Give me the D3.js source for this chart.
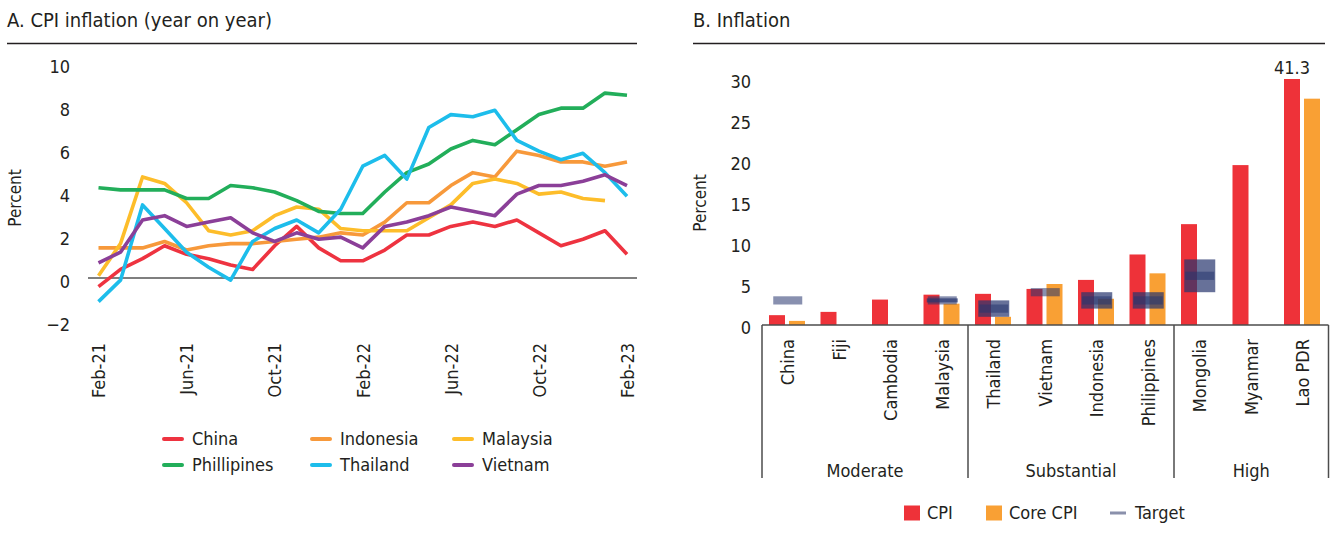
<!DOCTYPE html>
<html>
<head>
<meta charset="utf-8">
<script src="https://cdn.jsdelivr.net/npm/d3@7"></script>
<style>
	body { margin: 0; background: #fff; }
	svg { font-family: "DejaVu Sans Condensed", "DejaVu Sans", sans-serif; font-stretch: condensed; }
	text { fill: #231f20; }
</style>
</head>
<body>
<svg id="chart" width="1333" height="546"></svg>
<script>

// panel A: CPI inflation, year on year, percent
var months = ["Feb-21", "Mar-21", "Apr-21", "May-21", "Jun-21", "Jul-21", "Aug-21", "Sep-21", "Oct-21", "Nov-21", "Dec-21", "Jan-22",
	"Feb-22", "Mar-22", "Apr-22", "May-22", "Jun-22", "Jul-22", "Aug-22", "Sep-22", "Oct-22", "Nov-22", "Dec-22", "Jan-23", "Feb-23"];
var china       = [-0.4, 0.4, 0.9, 1.5, 1.1, 0.9, 0.6, 0.4, 1.5, 2.4, 1.4, 0.8, 0.8, 1.3, 2.0, 2.0, 2.4, 2.6, 2.4, 2.7, 2.1, 1.5, 1.8, 2.2, 1.1];
var indonesia   = [1.4, 1.4, 1.4, 1.7, 1.3, 1.5, 1.6, 1.6, 1.7, 1.8, 1.9, 2.1, 2.0, 2.6, 3.5, 3.5, 4.3, 4.9, 4.7, 5.9, 5.7, 5.4, 5.4, 5.2, 5.4];
var malaysia    = [0.1, 1.6, 4.7, 4.4, 3.5, 2.2, 2.0, 2.2, 2.9, 3.3, 3.2, 2.3, 2.2, 2.2, 2.2, 2.8, 3.4, 4.4, 4.6, 4.4, 3.9, 4.0, 3.7, 3.6, null];
var philippines = [4.2, 4.1, 4.1, 4.1, 3.7, 3.7, 4.3, 4.2, 4.0, 3.6, 3.1, 3.0, 3.0, 4.0, 4.9, 5.3, 6.0, 6.4, 6.2, 6.9, 7.6, 7.9, 7.9, 8.6, 8.5];
var thailand    = [-1.1, -0.1, 3.4, 2.3, 1.2, 0.5, -0.1, 1.7, 2.3, 2.7, 2.1, 3.2, 5.2, 5.7, 4.6, 7.0, 7.6, 7.5, 7.8, 6.4, 5.9, 5.5, 5.8, 4.9, 3.8];
var vietnam     = [0.7, 1.2, 2.7, 2.9, 2.4, 2.6, 2.8, 2.1, 1.7, 2.1, 1.8, 1.9, 1.4, 2.4, 2.6, 2.9, 3.3, 3.1, 2.9, 3.9, 4.3, 4.3, 4.5, 4.8, 4.3];
var seriesNames = ["China", "Indonesia", "Malaysia", "Phillipines", "Thailand", "Vietnam"];
var yTicksA = [-2, 0, 2, 4, 6, 8, 10];

// panel B: inflation by country, percent
var countries = ["China", "Fiji", "Cambodia", "Malaysia", "Thailand", "Vietnam", "Indonesia", "Philippines", "Mongolia", "Myanmar", "Lao PDR"];
var cpi     = [1.2, 1.6, 3.1, 3.7, 3.8, 4.4, 5.5, 8.6, 12.3, 19.5, 41.3];
var coreCpi = [0.5, null, null, 2.6, 1.0, 5.0, 3.2, 6.3, null, null, 27.6];
var target     = [3, null, null, 3, 2, 4, 3, 3, 6, null, null];
var targetLow  = [null, null, null, 2.75, 1, null, 2, 2, 4, null, null];
var targetHigh = [null, null, null, 3.25, 3, null, 4, 4, 8, null, null];
var groups = ["Moderate", "Substantial", "High"];
var groupSizes = [4, 4, 3];
var yTicksB = [0, 5, 10, 15, 20, 25, 30];

var lineColors = ["#ee3340", "#f7993b", "#fdbd2a", "#22ae5a", "#1dbdeb", "#8b3f98"];
var red = "#ee3239", orange = "#f9a034", navy = "#26346e";

var svg = d3.select("#chart");

var title = function (label, x0, x1) {
	svg.append("text")
	    .attr("x", x0)
	    .attr("y", 27)
	    .attr("font-size", 20)
	    .text(label);
	svg.append("line")
	    .attr("x1", x0).attr("x2", x1)
	    .attr("y1", 43.5).attr("y2", 43.5)
	    .style("stroke", "#231f20")
	    .style("stroke-width", 1.5);
};

var percentLabel = function (x, y) {
	svg.append("text")
	    .attr("transform", "translate(" + x + "," + y + ") rotate(-90)")
	    .attr("text-anchor", "middle")
	    .attr("dy", "0.35em")
	    .attr("font-size", 17)
	    .text("Percent");
};

var styleAxis = function (g) {
	g.attr("font-size", 18).attr("font-family", null);
	g.select(".domain").remove();
	g.selectAll("text").style("fill", "#231f20");
};

// ---- panel A ----
title("A. CPI inflation (year on year)", 7, 637);
percentLabel(15, 198);

var x = d3.scalePoint().domain(months).range([98.5, 627]);
var y = d3.scaleLinear().domain([-2, 10]).range([321, 63]);

svg.append("g")
    .attr("transform", "translate(70,0)")
    .call(d3.axisLeft(y).tickValues(yTicksA).tickSize(0).tickPadding(0))
    .call(styleAxis)
  .selectAll("text")
    .attr("y", 4);

svg.append("g")
    .attr("transform", "translate(0,343)")
    .call(d3.axisBottom(x).tickValues(months.filter(function (d, i) { return i % 4 === 0 })).tickSize(0))
    .call(styleAxis)
  .selectAll("text")
    .attr("transform", "rotate(-90)")
    .attr("text-anchor", "end")
    .attr("x", 0)
    .attr("y", 0)
    .attr("dy", "0.35em");

svg.append("line")
    .attr("x1", 88).attr("x2", 637)
    .attr("y1", y(0)).attr("y2", y(0))
    .style("stroke", "#000")
    .style("stroke-width", 1.2);

var series = [china, indonesia, malaysia, philippines, thailand, vietnam].map(function (values, i) {
	return { name: seriesNames[i], values: values, color: lineColors[i] };
});

var line = d3.line()
    .defined(function (d) { return d != null })
    .x(function (d, i) { return x(months[i]) })
    .y(function (d) { return y(d) });

svg.append("g").selectAll("path")
    .data(series)
  .enter().append("path")
    .attr("d", function (d) { return line(d.values) })
    .style("fill", "none")
    .style("stroke", function (d) { return d.color })
    .style("stroke-width", 3.6)
    .style("stroke-linejoin", "round");

var legendA = svg.append("g").selectAll("g")
    .data(series)
  .enter().append("g")
    .attr("transform", function (d, i) { return "translate(" + [164, 312, 454][i % 3] + "," + (439 + Math.floor(i / 3) * 26) + ")" });
legendA.append("line")
    .attr("x1", 0).attr("x2", 18)
    .style("stroke", function (d) { return d.color })
    .style("stroke-width", 4)
    .style("stroke-linecap", "round");
legendA.append("text")
    .attr("x", 28)
    .attr("dy", "0.36em")
    .attr("font-size", 18)
    .text(function (d) { return d.name });

// ---- panel B ----
title("B. Inflation", 693, 1325);
percentLabel(700, 203);

var xb = d3.scaleBand().domain(countries).range([762, 1328.5]);
var xs = d3.scaleBand().domain(["cpi", "core"]).range([7, 43]).paddingInner(0.2);
var yb = d3.scaleLinear().domain([0, 30]).range([325, 79]).clamp(true);

svg.append("g")
    .attr("transform", "translate(751,0)")
    .call(d3.axisLeft(yb).tickValues(yTicksB).tickSize(0).tickPadding(0))
    .call(styleAxis)
  .selectAll("text")
    .attr("y", 3);

var bars = countries.map(function (c, i) {
	return { country: c, cpi: cpi[i], core: coreCpi[i], t: target[i], lo: targetLow[i], hi: targetHigh[i] };
});

var barGroup = svg.append("g");
[["cpi", red], ["core", orange]].forEach(function (s) {
	barGroup.selectAll("rect." + s[0])
	    .data(bars.filter(function (d) { return d[s[0]] != null }))
	  .enter().append("rect").classed(s[0], true)
	    .attr("x", function (d) { return xb(d.country) + xs(s[0]) })
	    .attr("width", xs.bandwidth())
	    .attr("y", function (d) { return yb(d[s[0]]) })
	    .attr("height", function (d) { return yb(0) - yb(d[s[0]]) })
	    .style("fill", s[1]);
});

svg.append("g").selectAll("rect")
    .data(bars.filter(function (d) { return d.lo != null }))
  .enter().append("rect")
    .attr("x", function (d) { return xb(d.country) + xb.bandwidth() / 2 - 15.5 })
    .attr("width", 31)
    .attr("y", function (d) { return yb(d.hi) })
    .attr("height", function (d) { return yb(d.lo) - yb(d.hi) })
    .style("fill", navy)
    .style("opacity", 0.7);

svg.append("g").selectAll("rect")
    .data(bars.filter(function (d) { return d.t != null }))
  .enter().append("rect")
    .attr("x", function (d) { return xb(d.country) + xb.bandwidth() / 2 - 14.5 })
    .attr("width", 29)
    .attr("y", function (d) { return yb(d.t + 0.5) })
    .attr("height", function (d) { return yb(d.t - 0.5) - yb(d.t + 0.5) })
    .style("fill", navy)
    .style("opacity", 0.55);

// value of the clipped Lao PDR bar
var lao = bars[bars.length - 1];
svg.append("text")
    .attr("x", xb(lao.country) + xs("cpi") + xs.bandwidth() / 2)
    .attr("y", 74)
    .attr("text-anchor", "middle")
    .attr("font-size", 18)
    .text(lao.cpi);

svg.append("line")
    .attr("x1", xb.range()[0]).attr("x2", xb.range()[1])
    .attr("y1", yb(0)).attr("y2", yb(0))
    .style("stroke", "#4d4d4d")
    .style("stroke-width", 1.5);

svg.append("g")
    .attr("transform", "translate(0,339)")
    .call(d3.axisBottom(xb).tickSize(0))
    .call(styleAxis)
  .selectAll("text")
    .attr("transform", "rotate(-90)")
    .attr("text-anchor", "end")
    .attr("x", 0)
    .attr("y", 0)
    .attr("dy", "0.35em");

var bounds = [0];
groupSizes.forEach(function (n, i) { bounds.push(bounds[i] + n) });
svg.append("g").selectAll("line")
    .data(bounds)
  .enter().append("line")
    .attr("x1", function (d) { return xb.range()[0] + d * xb.step() })
    .attr("x2", function (d) { return xb.range()[0] + d * xb.step() })
    .attr("y1", yb(0))
    .attr("y2", 478)
    .style("stroke", "#4d4d4d")
    .style("stroke-width", 1.5);

svg.append("g").selectAll("text")
    .data(groups)
  .enter().append("text")
    .attr("x", function (d, i) { return xb.range()[0] + (bounds[i] + bounds[i + 1]) / 2 * xb.step() })
    .attr("y", 477)
    .attr("text-anchor", "middle")
    .attr("font-size", 18)
    .text(function (d) { return d });

var legendB = [
	{ label: "CPI", color: red, x: 904 },
	{ label: "Core CPI", color: orange, x: 986 },
	{ label: "Target", color: "#8a90ab", x: 1110, line: true }
];
var lb = svg.append("g").selectAll("g")
    .data(legendB)
  .enter().append("g")
    .attr("transform", function (d) { return "translate(" + d.x + ",513)" });
lb.append("rect")
    .attr("y", function (d) { return d.line ? -1.5 : -7.5 })
    .attr("width", 16)
    .attr("height", function (d) { return d.line ? 3 : 15 })
    .style("fill", function (d) { return d.color });
lb.append("text")
    .attr("x", function (d) { return d.line ? 25 : 23 })
    .attr("dy", "0.36em")
    .attr("font-size", 18)
    .text(function (d) { return d.label });

</script>
</body>
</html>
